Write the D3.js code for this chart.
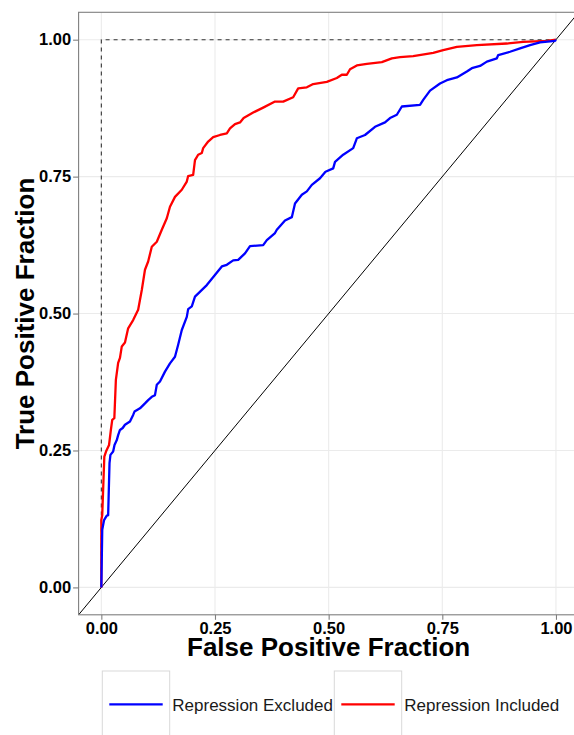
<!DOCTYPE html>
<html>
<head>
<meta charset="utf-8">
<script src="https://cdn.jsdelivr.net/npm/d3@7"></script>
<style>
  body { margin: 0; background: #fff; }
  svg { display: block; font-family: "Liberation Sans", Arial, sans-serif; }
</style>
</head>
<body>
<svg id="roc" width="574" height="735"></svg>
<script>
// ROC curves
var inclFpr = [0, 0, 0.002, 0.0066, 0.0103, 0.017, 0.021, 0.024, 0.0286, 0.032, 0.037, 0.041, 0.045, 0.052, 0.059, 0.070, 0.081, 0.089, 0.096, 0.103, 0.111, 0.122, 0.133, 0.144, 0.151, 0.162, 0.177, 0.188, 0.191, 0.202, 0.206, 0.213, 0.221, 0.224, 0.235, 0.246, 0.261, 0.276, 0.283, 0.294, 0.305, 0.313, 0.334, 0.356, 0.382, 0.400, 0.422, 0.433, 0.452, 0.466, 0.496, 0.518, 0.529, 0.540, 0.547, 0.562, 0.584, 0.617, 0.639, 0.657, 0.686, 0.730, 0.752, 0.782, 0.826, 0.892, 0.928, 0.980, 1.0];
var inclTpr = [0, 0.123, 0.132, 0.239, 0.248, 0.260, 0.2875, 0.306, 0.309, 0.379, 0.410, 0.419, 0.440, 0.447, 0.473, 0.488, 0.507, 0.543, 0.580, 0.595, 0.622, 0.631, 0.653, 0.674, 0.695, 0.713, 0.726, 0.741, 0.751, 0.753, 0.780, 0.790, 0.793, 0.802, 0.814, 0.822, 0.826, 0.829, 0.838, 0.846, 0.849, 0.857, 0.867, 0.876, 0.887, 0.887, 0.895, 0.911, 0.913, 0.919, 0.923, 0.930, 0.936, 0.936, 0.946, 0.953, 0.956, 0.959, 0.966, 0.968, 0.970, 0.976, 0.981, 0.987, 0.990, 0.993, 0.996, 0.998, 1.0];

var exclFpr = [0, 0.002, 0.006, 0.012, 0.015, 0.018, 0.020, 0.026, 0.029, 0.034, 0.037, 0.041, 0.047, 0.052, 0.063, 0.070, 0.073, 0.085, 0.096, 0.103, 0.111, 0.118, 0.122, 0.129, 0.140, 0.151, 0.162, 0.169, 0.177, 0.188, 0.191, 0.199, 0.206, 0.232, 0.265, 0.276, 0.290, 0.301, 0.316, 0.327, 0.356, 0.364, 0.382, 0.386, 0.404, 0.419, 0.426, 0.441, 0.452, 0.463, 0.481, 0.493, 0.510, 0.514, 0.532, 0.554, 0.562, 0.580, 0.602, 0.624, 0.635, 0.650, 0.661, 0.701, 0.708, 0.723, 0.745, 0.760, 0.782, 0.804, 0.815, 0.833, 0.848, 0.870, 0.873, 0.899, 0.921, 0.943, 0.965, 0.998, 1.0];
var exclTpr = [0, 0.105, 0.123, 0.131, 0.132, 0.227, 0.242, 0.248, 0.260, 0.269, 0.278, 0.2875, 0.291, 0.297, 0.303, 0.315, 0.321, 0.327, 0.336, 0.342, 0.348, 0.351, 0.370, 0.376, 0.394, 0.409, 0.421, 0.443, 0.470, 0.494, 0.508, 0.513, 0.531, 0.552, 0.586, 0.589, 0.597, 0.598, 0.610, 0.623, 0.625, 0.634, 0.647, 0.653, 0.670, 0.676, 0.701, 0.717, 0.723, 0.735, 0.747, 0.759, 0.765, 0.777, 0.790, 0.802, 0.820, 0.826, 0.841, 0.849, 0.857, 0.863, 0.878, 0.881, 0.890, 0.907, 0.920, 0.926, 0.931, 0.942, 0.948, 0.952, 0.960, 0.966, 0.972, 0.978, 0.984, 0.990, 0.995, 0.998, 1.0];

var tickValues = [0, 0.25, 0.5, 0.75, 1];
var seriesNames = ["Repression Excluded", "Repression Included"];
var seriesColors = ["#0000ff", "#ff0000"];

var svg = d3.select("#roc"),
    panel = {left: 78.6, right: 578.7, top: 12.3, bottom: 614.8};

var x = d3.scaleLinear().domain([-0.05, 1.05]).range([panel.left, panel.right]);
var y = d3.scaleLinear().domain([-0.05, 1.05]).range([panel.bottom, panel.top]);

var defs = svg.append("defs");
defs.append("clipPath").attr("id", "clip")
  .append("rect")
    .attr("x", panel.left).attr("y", panel.top)
    .attr("width", panel.right - panel.left).attr("height", panel.bottom - panel.top);

// grid
var grid = svg.append("g").attr("stroke", "#ebebeb").attr("stroke-width", 1.1);
grid.selectAll("line.v").data(tickValues).enter().append("line")
    .attr("x1", function(d) { return x(d); }).attr("x2", function(d) { return x(d); })
    .attr("y1", panel.top).attr("y2", panel.bottom);
grid.selectAll("line.h").data(tickValues).enter().append("line")
    .attr("y1", function(d) { return y(d); }).attr("y2", function(d) { return y(d); })
    .attr("x1", panel.left).attr("x2", panel.right);

var plot = svg.append("g").attr("clip-path", "url(#clip)");

// perfect classifier, dashed
plot.append("path")
    .datum([[0, 0], [0, 1], [1, 1]])
    .attr("fill", "none")
    .attr("stroke", "#333")
    .attr("stroke-width", 1.1)
    .attr("stroke-dasharray", "4,4")
    .attr("d", d3.line().x(function(d) { return x(d[0]); }).y(function(d) { return y(d[1]); }));

// chance line
plot.append("line")
    .attr("x1", x(-0.05)).attr("y1", y(-0.05))
    .attr("x2", x(1.05)).attr("y2", y(1.05))
    .attr("stroke", "#000").attr("stroke-width", 1);

var line = d3.line()
    .x(function(d) { return x(d[0]); })
    .y(function(d) { return y(d[1]); });

plot.append("path")
    .datum(d3.zip(inclFpr, inclTpr))
    .attr("fill", "none")
    .attr("stroke", seriesColors[1])
    .attr("stroke-width", 2.3)
    .attr("stroke-linejoin", "round")
    .attr("d", line);

plot.append("path")
    .datum(d3.zip(exclFpr, exclTpr))
    .attr("fill", "none")
    .attr("stroke", seriesColors[0])
    .attr("stroke-width", 2.3)
    .attr("stroke-linejoin", "round")
    .attr("d", line);

// panel border
svg.append("rect")
    .attr("x", panel.left).attr("y", panel.top)
    .attr("width", panel.right - panel.left).attr("height", panel.bottom - panel.top)
    .attr("fill", "none").attr("stroke", "#7f7f7f").attr("stroke-width", 1.1);

// axes
var fmt = d3.format(".2f");
var xAxis = svg.append("g")
    .attr("transform", "translate(0," + panel.bottom + ")")
    .call(d3.axisBottom(x).tickValues(tickValues).tickFormat(fmt).tickSize(5).tickPadding(2));
var yAxis = svg.append("g")
    .attr("transform", "translate(" + panel.left + ",0)")
    .call(d3.axisLeft(y).tickValues(tickValues).tickFormat(fmt).tickSize(5.5).tickPadding(2));

[xAxis, yAxis].forEach(function(a) {
  a.select(".domain").remove();
  a.selectAll(".tick line").attr("stroke", "#7f7f7f").attr("stroke-width", 1.1);
  a.selectAll(".tick text")
      .attr("fill", "#000")
      .style("font-family", "'Liberation Sans', Arial, sans-serif")
      .style("font-size", "16.5px")
      .style("font-weight", "bold");
});

svg.append("text")
    .attr("x", x(0.5)).attr("y", 656)
    .attr("text-anchor", "middle")
    .style("font-size", "26px").style("font-weight", "bold")
    .text("False Positive Fraction");

svg.append("text")
    .attr("transform", "translate(33.5," + y(0.5) + ") rotate(-90)")
    .attr("text-anchor", "middle")
    .style("font-size", "26px").style("font-weight", "bold")
    .text("True Positive Fraction");

// legend
var legend = svg.append("g").selectAll("g").data(seriesNames).enter().append("g")
    .attr("transform", function(d, i) { return "translate(" + [102.3, 334.3][i] + ",671)"; });
legend.append("rect")
    .attr("width", 67.4).attr("height", 80)
    .attr("fill", "#fff").attr("stroke", "#d9d9d9").attr("stroke-width", 1);
legend.append("line")
    .attr("x1", 7).attr("x2", 60.4).attr("y1", 33.3).attr("y2", 33.3)
    .attr("stroke", function(d, i) { return seriesColors[i]; })
    .attr("stroke-width", 2.3);
legend.append("text")
    .attr("x", 70).attr("y", 40)
    .style("font-size", "17px")
    .attr("fill", "#1a1a1a")
    .text(function(d) { return d; });
</script>
</body>
</html>
